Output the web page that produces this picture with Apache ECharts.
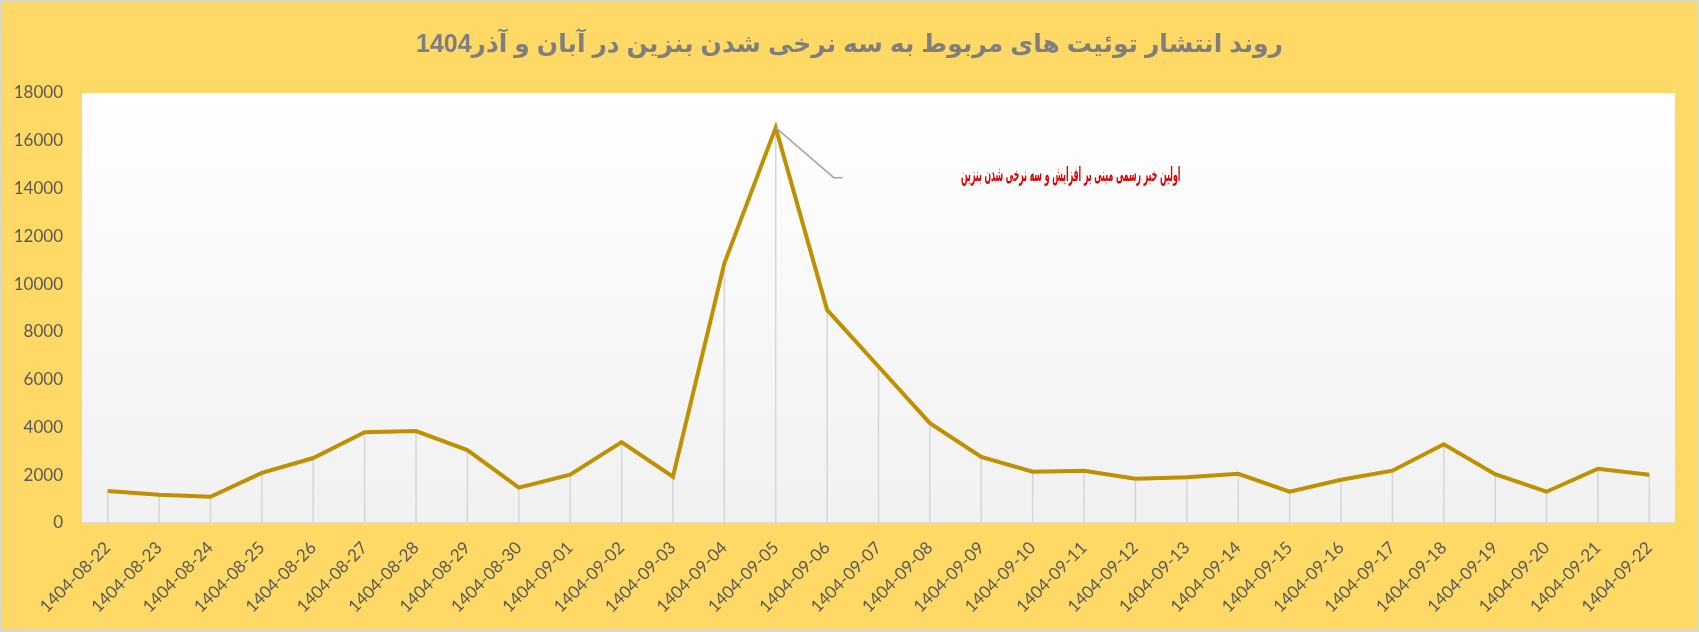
<!DOCTYPE html>
<html><head><meta charset="utf-8">
<script src="https://cdn.jsdelivr.net/npm/echarts@6/dist/echarts.min.js"></script>
<style>html,body{margin:0;padding:0;background:#fff}#c{width:1699px;height:632px}</style>
</head><body><div id="c"></div>
<script>
const categories = [
  '1404-08-22','1404-08-23','1404-08-24','1404-08-25','1404-08-26','1404-08-27','1404-08-28','1404-08-29','1404-08-30',
  '1404-09-01','1404-09-02','1404-09-03','1404-09-04','1404-09-05','1404-09-06','1404-09-07','1404-09-08','1404-09-09',
  '1404-09-10','1404-09-11','1404-09-12','1404-09-13','1404-09-14','1404-09-15','1404-09-16','1404-09-17','1404-09-18',
  '1404-09-19','1404-09-20','1404-09-21','1404-09-22'
];
const tweets = [
  1340, 1180, 1100, 2100, 2720, 3800, 3850, 3050, 1480,
  2020, 3390, 1940, 10870, 16550, 8920, 6550, 4180, 2770,
  2150, 2190, 1850, 1920, 2060, 1310, 1810, 2190, 3300,
  2040, 1310, 2270, 2020
];
const yMin = 0, yMax = 18000, yStep = 2000;
const titleText = 'روند انتشار توئیت های مربوط به سه نرخی شدن بنزین در آبان و آذر1404';
const noteText = 'اولین خبر رسمی مبنی بر افزایش و سه نرخی شدن بنزین';
const noteCategory = '1404-09-05';

const chart = echarts.init(document.getElementById('c'));
const W = 1699, H = 632;
chart.setOption({
  animation: false,
  backgroundColor: '#FFD966',
  title: {
    text: titleText, left: 'center', top: 28,
    textStyle: { fontFamily: "'Liberation Sans','DejaVu Sans',sans-serif", fontWeight: 'bold', fontSize: 25, color: '#7f7f7f' }
  },
  grid: {
    left: 82, right: 24, top: 93, bottom: 109, show: true, borderWidth: 0,
    backgroundColor: new echarts.graphic.LinearGradient(0, 0, 0, 1, [
      { offset: 0, color: '#ffffff' }, { offset: 1, color: '#f1f1f1' }
    ])
  },
  xAxis: {
    type: 'category', data: categories, boundaryGap: true,
    axisLine: { lineStyle: { color: '#d9d9d9', width: 2 } },
    axisTick: { show: false },
    axisLabel: { rotate: 45, margin: 22, color: '#595959', fontFamily: 'Lato, sans-serif', fontSize: 17, interval: 0 }
  },
  yAxis: {
    type: 'value', min: yMin, max: yMax, interval: yStep,
    axisLine: { show: false }, axisTick: { show: false }, splitLine: { show: false },
    axisLabel: { margin: 19, color: '#595959', fontFamily: 'Lato, sans-serif', fontSize: 17, formatter: v => String(v) }
  },
  series: [
    {
      type: 'bar', data: tweets, barWidth: 1.5, silent: true, z: 1,
      itemStyle: { color: '#d6d6d6' }
    },
    {
      type: 'line', data: tweets, showSymbol: false, symbol: 'none', z: 3,
      lineStyle: { color: '#BF9000', width: 4, join: 'miter' }
    }
  ]
});

const p = chart.convertToPixel({ seriesIndex: 1 }, [noteCategory, tweets[categories.indexOf(noteCategory)]]);
chart.setOption({
  graphic: [
    { type: 'rect', shape: { x: 1, y: 1, width: W - 2, height: H - 2 }, style: { fill: 'none', stroke: '#d4d8dc', lineWidth: 2 }, z: 100 },
    { type: 'polyline', shape: { points: [[p[0], p[1]], [p[0] + 58, p[1] + 50], [p[0] + 67, p[1] + 50]] },
      style: { stroke: '#a6a6a6', lineWidth: 1.5, fill: 'none' }, z: 50 },
    { type: 'text', x: p[0] + 295, y: p[1] + 48, scaleX: 0.43, scaleY: 1, z: 50,
      style: { text: noteText, fill: '#e00000', font: "bold 20px 'DejaVu Sans Condensed','DejaVu Sans', sans-serif", align: 'center', verticalAlign: 'middle' } }
  ]
});
</script></body></html>
